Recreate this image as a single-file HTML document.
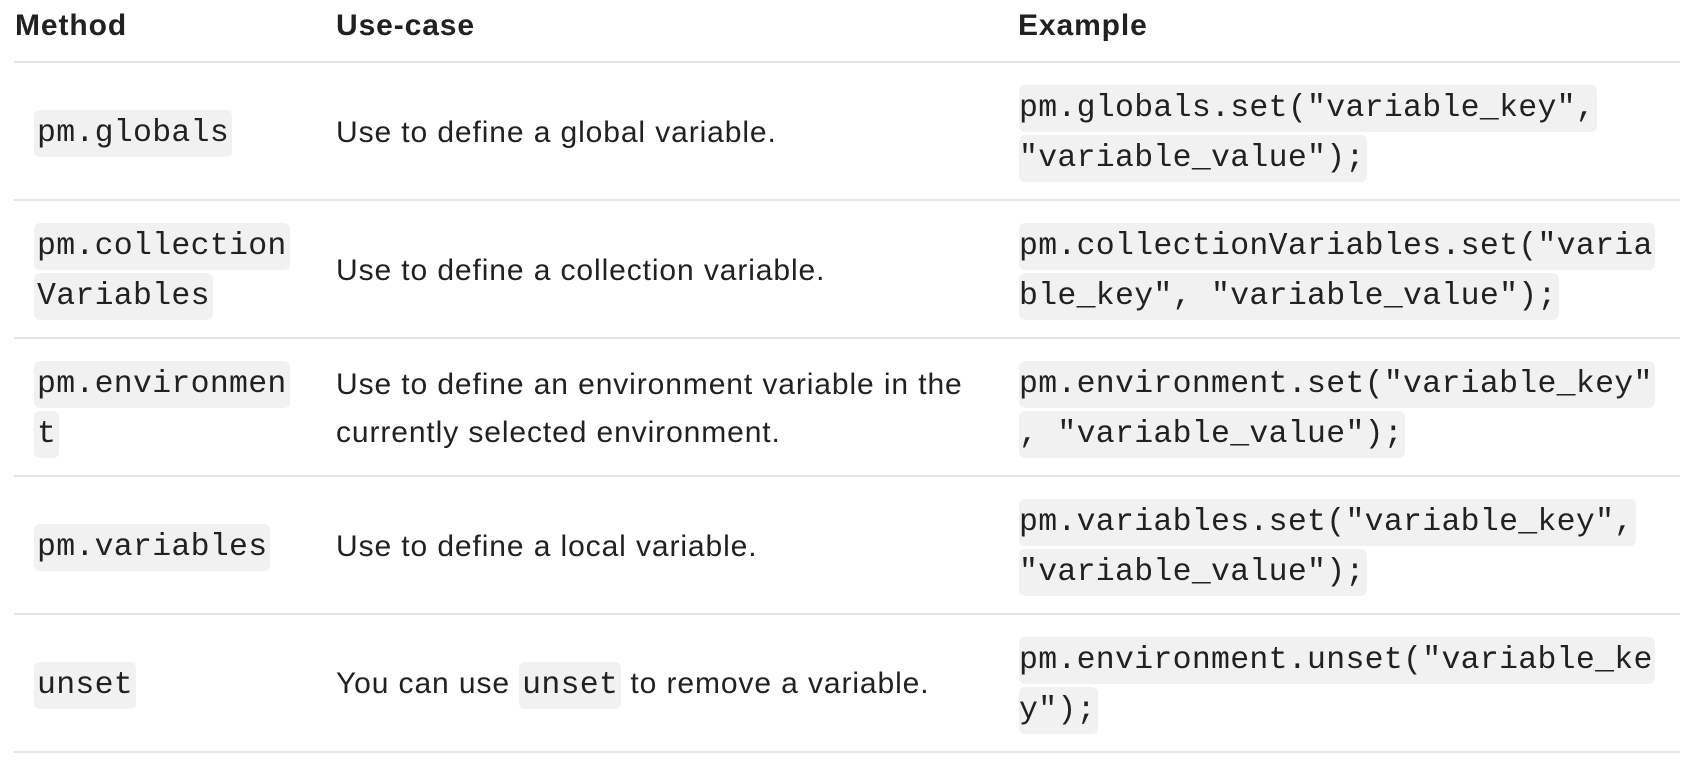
<!DOCTYPE html>
<html><head><meta charset="utf-8"><style>
*{margin:0;padding:0;box-sizing:border-box}
body{width:1688px;height:778px;background:#fff;color:#212121;font-family:"Liberation Sans",sans-serif;position:relative;overflow:hidden}
.h{position:absolute;top:8px;font-weight:bold;font-size:30px;letter-spacing:0.9px;line-height:36px}
.line{position:absolute;left:14px;width:1666px;height:2px;background:#e3e3e3}
.cell{position:absolute;height:138px;display:flex;align-items:center}
.t{font-size:30px;letter-spacing:0.9px;line-height:48px}
code{font-family:"Liberation Mono",monospace;font-size:31.5px;letter-spacing:0.3px;line-height:48px;background:#f1f1f1;border-radius:6px;padding:6px 3px;-webkit-box-decoration-break:clone;box-decoration-break:clone}
.c1{left:34px;width:260px}
.c2{left:336px;width:680px}
.c3{left:1019px;width:660px}
.c3 code{padding:6px 2px 6px 0}
</style></head><body>
<div class="h" style="left:15px">Method</div>
<div class="h" style="left:336px">Use-case</div>
<div class="h" style="left:1018px">Example</div>
<div class="line" style="top:61px"></div>
<div class="line" style="top:199px"></div>
<div class="line" style="top:337px"></div>
<div class="line" style="top:475px"></div>
<div class="line" style="top:613px"></div>
<div class="line" style="top:751px"></div>

<div class="cell c1" style="top:64px"><div class="t"><code>pm.globals</code></div></div>
<div class="cell c2 t" style="top:64px">Use to define a global variable.</div>
<div class="cell c3" style="top:64px"><div class="t"><code>pm.globals.set("variable_key",<br>"variable_value");</code></div></div>

<div class="cell c1" style="top:202px"><div class="t"><code>pm.collection<br>Variables</code></div></div>
<div class="cell c2 t" style="top:202px">Use to define a collection variable.</div>
<div class="cell c3" style="top:202px"><div class="t"><code>pm.collectionVariables.set("varia<br>ble_key", "variable_value");</code></div></div>

<div class="cell c1" style="top:340px"><div class="t"><code>pm.environmen<br>t</code></div></div>
<div class="cell c2" style="top:340px"><div class="t">Use to define an environment variable in the<br>currently selected environment.</div></div>
<div class="cell c3" style="top:340px"><div class="t"><code>pm.environment.set("variable_key"<br>, "variable_value");</code></div></div>

<div class="cell c1" style="top:478px"><div class="t"><code>pm.variables</code></div></div>
<div class="cell c2 t" style="top:478px">Use to define a local variable.</div>
<div class="cell c3" style="top:478px"><div class="t"><code>pm.variables.set("variable_key",<br>"variable_value");</code></div></div>

<div class="cell c1" style="top:616px"><div class="t"><code>unset</code></div></div>
<div class="cell c2 t" style="top:616px"><span>You can use <code style="padding:6px 3px">unset</code> to remove a variable.</span></div>
<div class="cell c3" style="top:616px"><div class="t"><code>pm.environment.unset("variable_ke<br>y");</code></div></div>
</body></html>
